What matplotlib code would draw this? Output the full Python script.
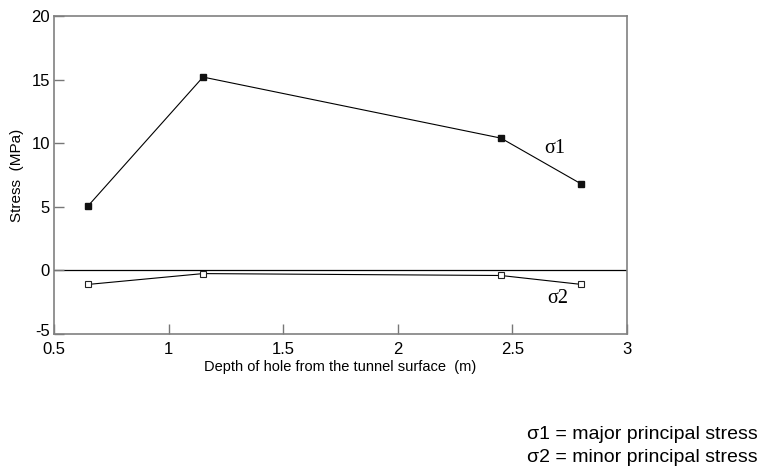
import matplotlib
matplotlib.use("Agg")
import matplotlib.pyplot as plt
import matplotlib.transforms as mtransforms
from matplotlib.ticker import FuncFormatter

plt.rcParams['axes.unicode_minus'] = False
plt.rcParams['font.family'] = ['Liberation Sans', 'DejaVu Sans']

# Depth along the hole (m) and measured principal stresses (MPa)
depth = [0.65, 1.15, 2.45, 2.80]
sigma1 = [5.1, 15.2, 10.4, 6.8]
sigma2 = [-1.1, -0.25, -0.4, -1.1]

x_ticks = [0.5, 1, 1.5, 2, 2.5, 3]
y_ticks = [-5, 0, 5, 10, 15, 20]

fig = plt.figure(figsize=(7.6, 4.68), dpi=100)
ax = fig.add_axes([0.0711, 0.2863, 0.7539, 0.6795])

ax.axhline(0, color='black', lw=0.9, zorder=1)
ax.plot(depth, sigma1, color='black', lw=0.8, marker='s', ms=5,
        mfc='#111111', mec='#111111', zorder=3)
ax.plot(depth, sigma2, color='black', lw=0.8, marker='s', ms=5,
        mfc='white', mec='#222222', mew=0.8, zorder=3)

ax.set_xlim(0.5, 3)
ax.set_ylim(-5, 20)
ax.set_xticks(x_ticks)
ax.set_yticks(y_ticks)
ax.xaxis.set_major_formatter(FuncFormatter(lambda v, p: f"{v:g}"))
ax.tick_params(axis='x', direction='in', length=7, width=1, color='#777777',
               labelsize=12, pad=6)
ax.tick_params(axis='y', direction='in', length=7, width=1, color='#777777',
               labelsize=12, pad=3)

# lift the bottom y label a little so it clears the first x label
fig.canvas.draw()
lift = mtransforms.ScaledTranslation(0, 3 / 72, fig.dpi_scale_trans)
ax.get_yticklabels()[0].set_transform(ax.get_yticklabels()[0].get_transform() + lift)

for s in ax.spines.values():
    s.set_color('#808080')
    s.set_linewidth(1.2)

ax.set_xlabel('Depth of hole from the tunnel surface  (m)', fontsize=10.5, labelpad=2)
ax.set_ylabel('Stress  (MPa)', fontsize=11, labelpad=5)

ax.text(2.64, 9.2, 'σ1', family='Liberation Serif', fontsize=14.5, va='baseline')
ax.text(2.65, -2.55, 'σ2', family='Liberation Serif', fontsize=14.5, va='baseline')

fig.text(0.694, 0.062, 'σ1 = major principal stress', fontsize=14, va='baseline')
fig.text(0.694, 0.013, 'σ2 = minor principal stress', fontsize=14, va='baseline')

fig.savefig('out.png', dpi=100)
